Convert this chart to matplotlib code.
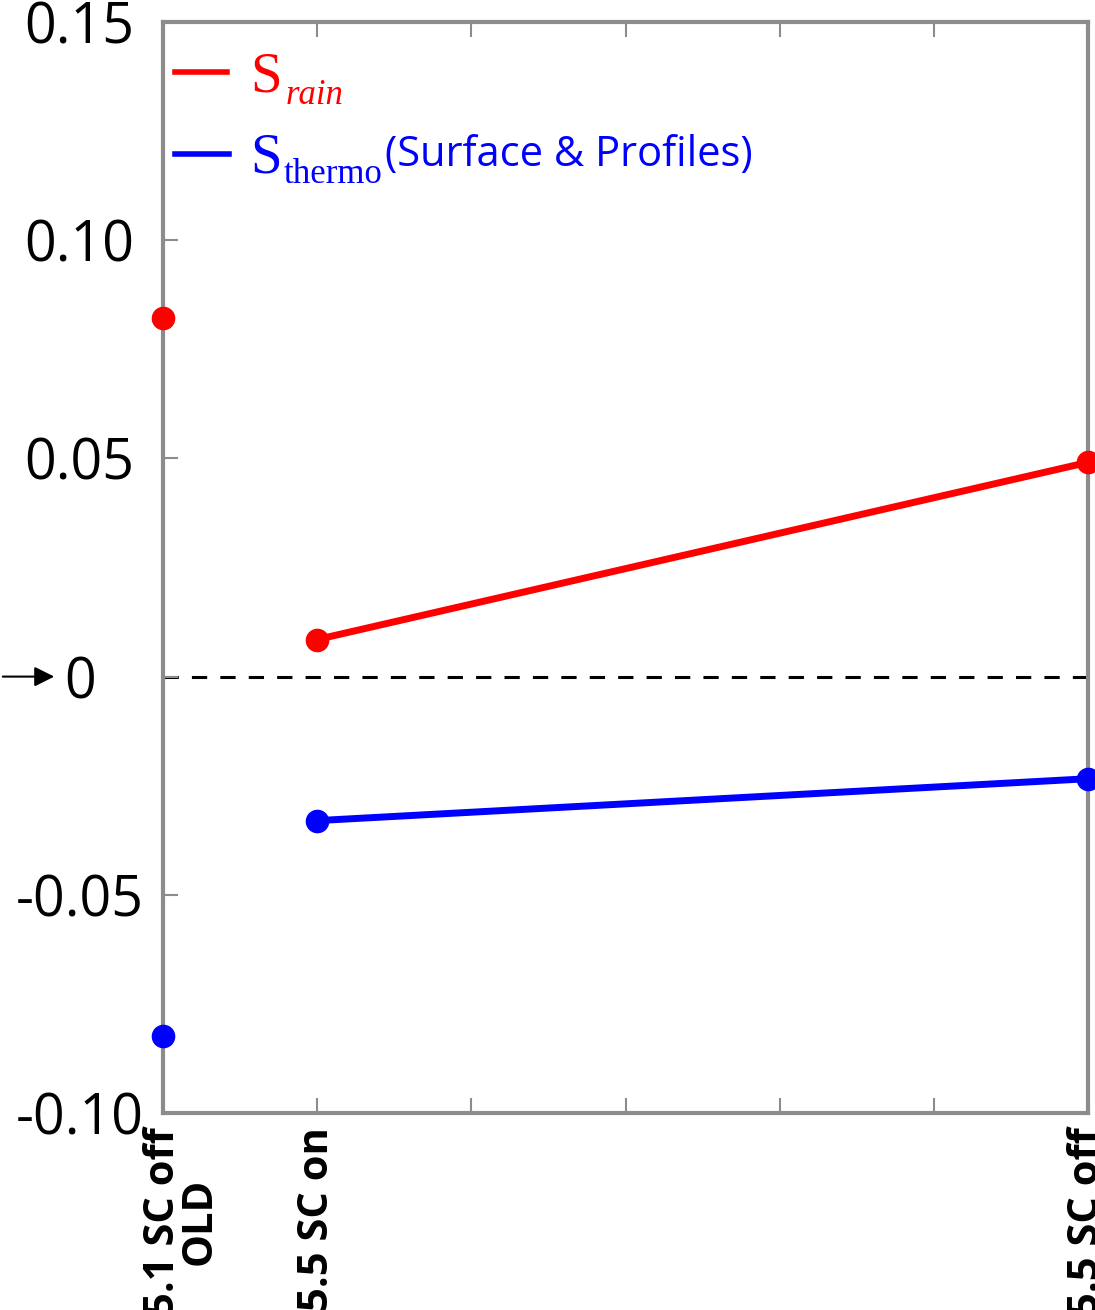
import matplotlib
matplotlib.use("Agg")
import matplotlib.pyplot as plt
from matplotlib.transforms import ScaledTranslation

# ── Data ────────────────────────────────────────────────────────────────
x_pos = [0, 1, 6]
x_labels = ["5.1 SC off\nOLD", "5.5 SC on", "5.5 SC off"]
s_rain = [0.0821, 0.0085, 0.0491]
s_thermo = [-0.0823, -0.0330, -0.0234]
y_ticks = [-0.10, -0.05, 0.0, 0.05, 0.10, 0.15]
y_labels = ["-0.10", "-0.05", "0", "0.05", "0.10", "0.15"]

RED = "#ff0000"
BLUE = "#0000ff"
GREY = "#8c8c8c"

fig = plt.figure(figsize=(10.95, 13.10), dpi=100)
ax = fig.add_axes([163 / 1095, 1 - 1113 / 1310, 925 / 1095, 1091 / 1310])

# zero line
ax.axhline(0, color="black", lw=2.2, dashes=(5, 4.3), zorder=1)

# series: old point stands alone, the two 5.5 runs are joined
for vals, col in [(s_rain, RED), (s_thermo, BLUE)]:
    ax.plot(x_pos[1:], vals[1:], color=col, lw=5, zorder=3, clip_on=False)
    ax.plot(x_pos, vals, "o", color=col, ms=16, zorder=4, clip_on=False)

ax.set_xlim(0, 6)
ax.set_ylim(-0.10, 0.15)

ticks = list(range(7))
tick_text = [x_labels[x_pos.index(t)] if t in x_pos else "" for t in ticks]
ax.set_xticks(ticks)
ax.set_xticklabels(tick_text, rotation=90, fontsize=30, fontweight="bold",
                   family="Open Sans", linespacing=0.85, multialignment="center")
ax.set_yticks(y_ticks)
ax.set_yticklabels(y_labels, fontsize=40, family="Open Sans", ha="center")

ax.tick_params(axis="x", direction="in", length=11, width=1.5, color=GREY,
               top=True, pad=10)
ax.tick_params(axis="y", direction="in", length=11, width=1.5, color=GREY,
               pad=60)
for sp in ax.spines.values():
    sp.set_color(GREY)
    sp.set_linewidth(3)

# the two-line label sits with its first line on the tick
first = ax.get_xticklabels()[0]
first.set_transform(first.get_transform()
                    + ScaledTranslation(0.19, 0, fig.dpi_scale_trans))

# arrow pointing at the zero label
ax.annotate("", xy=(57 / 1095, 0), xytext=(0, 0),
            xycoords=("figure fraction", "data"),
            textcoords=("figure fraction", "data"),
            arrowprops=dict(arrowstyle="-|>", color="black", lw=1.5,
                            mutation_scale=30))

# ── Hand-made legend ────────────────────────────────────────────────────
tr = ax.transAxes
ax.plot([0.013, 0.069], [0.954, 0.954], color=RED, lw=4, transform=tr, clip_on=False)
ax.plot([0.013, 0.071], [0.879, 0.879], color=BLUE, lw=4, transform=tr, clip_on=False)

ax.text(0.094, 0.936, "S", color=RED, fontsize=41, family="Liberation Serif",
        transform=tr, va="baseline")
ax.text(0.132, 0.925, "rain", color=RED, fontsize=25, family="Liberation Serif",
        style="italic", transform=tr, va="baseline")
ax.text(0.094, 0.862, "S", color=BLUE, fontsize=41, family="Liberation Serif",
        transform=tr, va="baseline")
ax.text(0.130, 0.852, "thermo", color=BLUE, fontsize=25, family="Liberation Serif",
        transform=tr, va="baseline")
ax.text(0.240, 0.868, "(Surface & Profiles)", color=BLUE, fontsize=30,
        family="Open Sans", transform=tr, va="baseline")

fig.savefig("out.png", dpi=100)
